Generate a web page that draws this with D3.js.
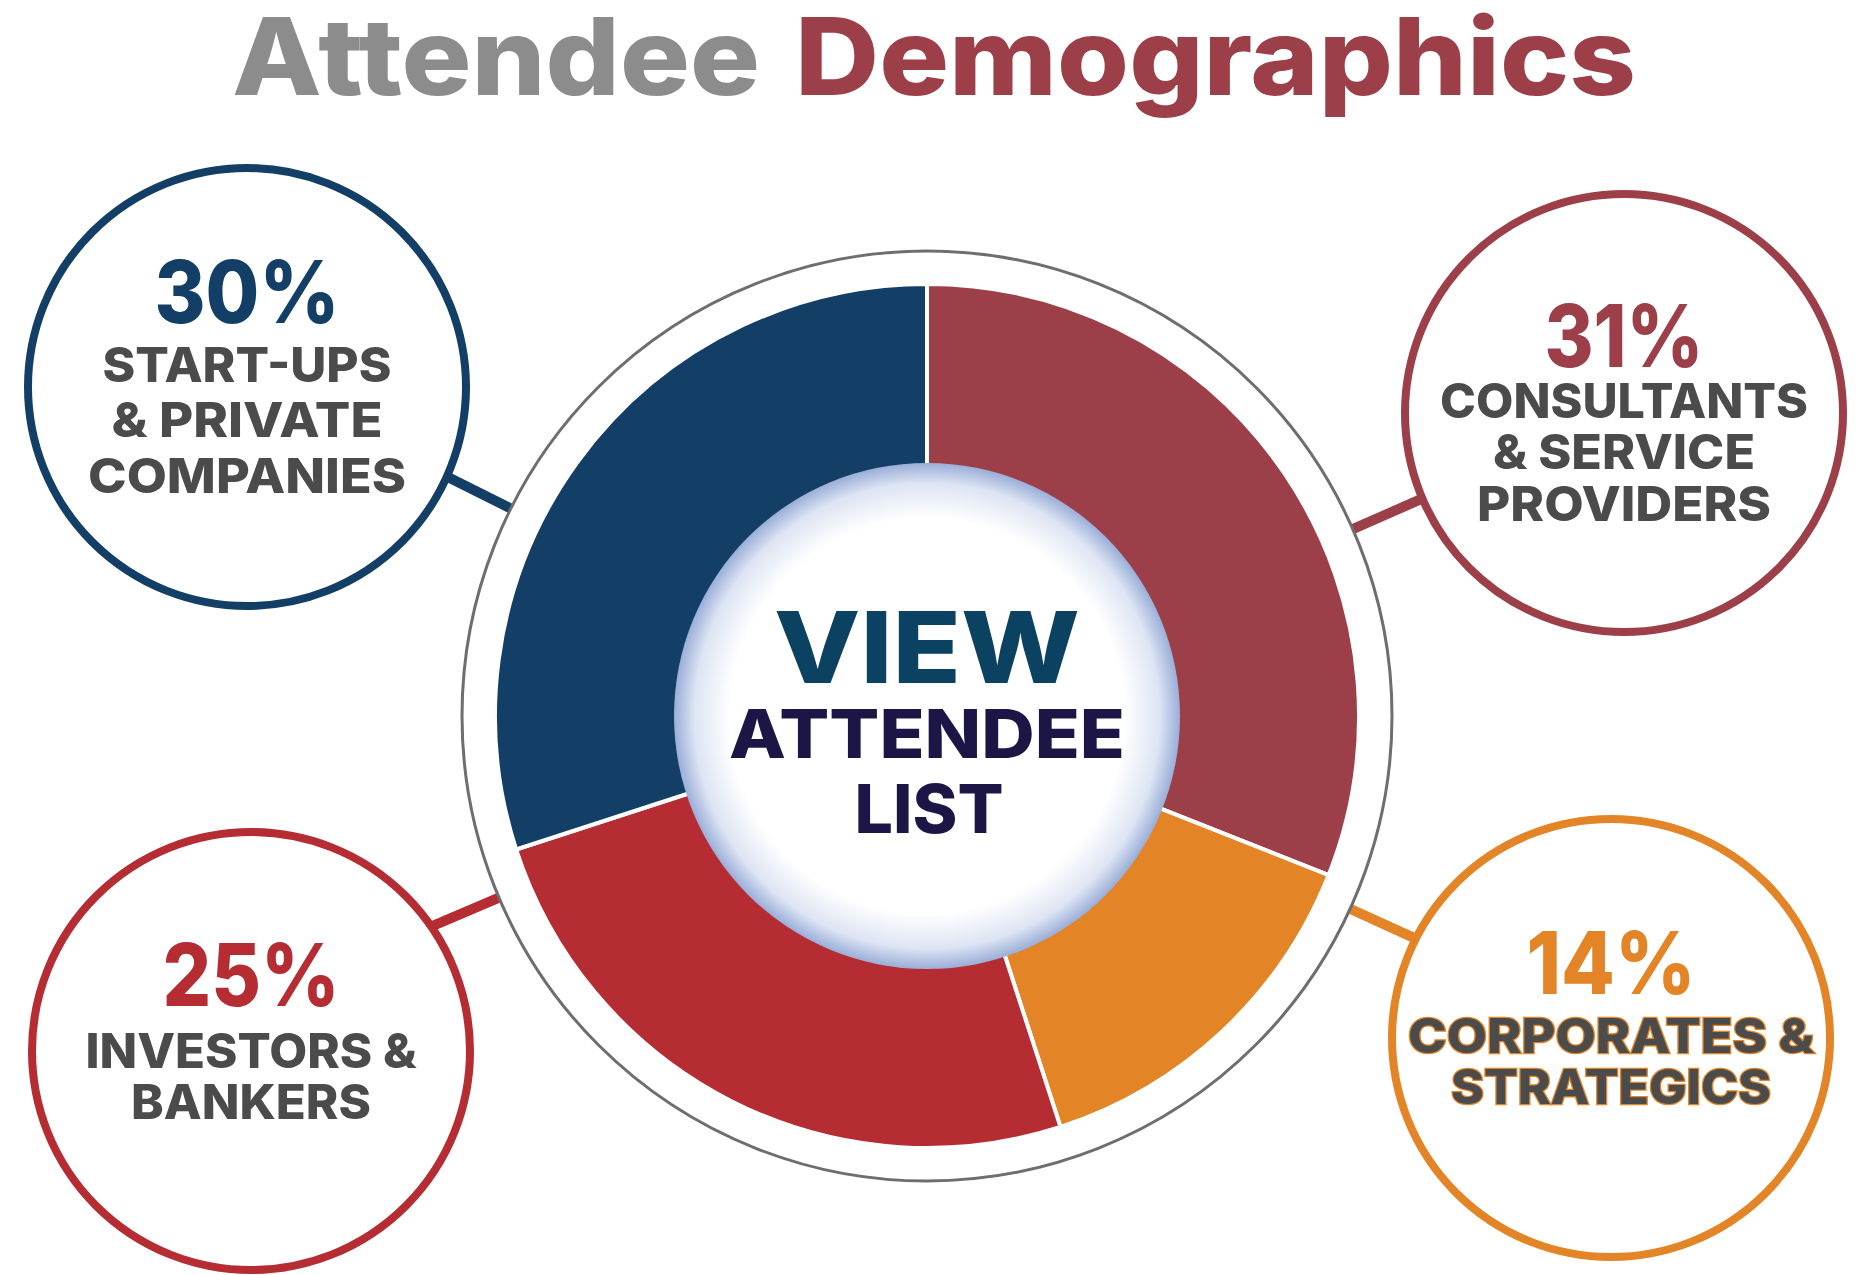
<!DOCTYPE html>
<html>
<head>
<meta charset="utf-8">
<script src="https://cdn.jsdelivr.net/npm/d3@7"></script>
<style>
  html, body { margin: 0; padding: 0; background: #fff; }
  svg { display: block; }
  text { font-family: Inter, "DejaVu Sans", sans-serif; font-weight: 800; }
</style>
</head>
<body>
<svg id="chart" width="1870" height="1275"></svg>
<script>
// data, clockwise from 12 o'clock
const categories = ["Consultants & Service Providers", "Corporates & Strategics", "Investors & Bankers", "Start-ups & Private Companies"];
const shares = [31, 14, 25, 30];
const labelLines = [
  ["CONSULTANTS", "& SERVICE", "PROVIDERS"],
  ["CORPORATES &", "STRATEGICS"],
  ["INVESTORS &", "BANKERS"],
  ["START-UPS", "& PRIVATE", "COMPANIES"]
];
const titleWords = ["Attendee", "Demographics"];
const centerLines = ["VIEW", "ATTENDEE", "LIST"];

// styles / layout
const sliceColors = ["#9c3f48", "#e38526", "#b52d33", "#133f66"];
const labelGray = "#4b4b4b";

const cx = 927, cy = 716;
const rOuter = 432, rInner = 253, rRing = 465;

// satellite bubbles: centre, connector angle (deg, screen), baselines and text widths
const bubbles = [
  {x: 1624, y: 413, ang: -23.7, pctY: 367, pctW: 159, lineY: [418, 469, 521], lineW: [368, 262, 294]},
  {x: 1611, y: 1038, ang: 24.5, pctY: 994, pctW: 169, lineY: [1053, 1104], lineW: [406, 320], outline: true},
  {x: 251, y: 1051, ang: 157, pctY: 1006, pctW: 177, lineY: [1068, 1119], lineW: [331, 240]},
  {x: 247, y: 387, ang: 206.5, pctY: 323, pctW: 185, lineY: [382, 437, 493], lineW: [289, 271, 318]}
];
const bubbleR = 219;

const svg = d3.select("#chart");

// title
const title = svg.append("text")
  .attr("y", 95)
  .attr("font-size", 107);
title.append("tspan")
  .attr("x", 232)
  .attr("fill", "#8c8c8c")
  .attr("textLength", 528)
  .attr("lengthAdjust", "spacingAndGlyphs")
  .text(titleWords[0]);
title.append("tspan")
  .attr("x", 795)
  .attr("fill", "#9c3f48")
  .attr("textLength", 841)
  .attr("lengthAdjust", "spacingAndGlyphs")
  .text(titleWords[1]);

// gradient for the centre disc
const defs = svg.append("defs");
const grad = defs.append("radialGradient").attr("id", "discGrad");
grad.append("stop").attr("offset", "0.78").attr("stop-color", "#ffffff");
grad.append("stop").attr("offset", "0.92").attr("stop-color", "#dde4f3");
grad.append("stop").attr("offset", "1").attr("stop-color", "#9aaed8");

// connectors (drawn first so bubbles and ring sit on top)
const conn = svg.append("g");
bubbles.forEach((b, i) => {
  const a = b.ang * Math.PI / 180;
  const ux = Math.cos(a), uy = Math.sin(a);
  // ray from donut centre hitting the bubble circle
  const dx = cx - b.x, dy = cy - b.y;
  const bq = dx * ux + dy * uy;
  const cq = dx * dx + dy * dy - bubbleR * bubbleR;
  const t = -bq - Math.sqrt(Math.max(0, bq * bq - cq));
  conn.append("line")
    .attr("x1", cx + ux * (rRing - 2)).attr("y1", cy + uy * (rRing - 2))
    .attr("x2", cx + ux * (t + 4)).attr("y2", cy + uy * (t + 4))
    .attr("stroke", sliceColors[i])
    .attr("stroke-width", 10);
});

// outer grey ring
svg.append("circle")
  .attr("cx", cx).attr("cy", cy).attr("r", rRing)
  .attr("fill", "#fff")
  .attr("stroke", "#6e6e6e")
  .attr("stroke-width", 3);

// donut
const pie = d3.pie().sort(null).value(d => d);
const arc = d3.arc().innerRadius(rInner - 20).outerRadius(rOuter);
svg.append("g")
  .attr("transform", `translate(${cx},${cy})`)
  .selectAll("path")
  .data(pie(shares))
  .join("path")
  .attr("d", arc)
  .attr("fill", (d, i) => sliceColors[i])
  .attr("stroke", "#fff")
  .attr("stroke-width", 4)
  .append("title").text((d, i) => categories[i] + ": " + d.data + "%");

// centre disc
svg.append("circle")
  .attr("cx", cx).attr("cy", cy).attr("r", rInner)
  .attr("fill", "url(#discGrad)");

const centerText = svg.append("g").attr("text-anchor", "middle");
[[683, 99, 306, "#0b4262"], [758, 67, 396, "#1c1647"], [833, 68, 149, "#1c1647"]].forEach((s, i) => {
  centerText.append("text")
    .attr("x", cx + (i === 2 ? 2 : 0)).attr("y", s[0])
    .attr("font-size", s[1])
    .attr("fill", s[3])
    .attr("textLength", s[2])
    .attr("lengthAdjust", "spacingAndGlyphs")
    .text(centerLines[i]);
});

// satellite bubbles
const bub = svg.append("g").selectAll("g")
  .data(bubbles)
  .join("g");

bub.append("circle")
  .attr("cx", d => d.x).attr("cy", d => d.y).attr("r", bubbleR)
  .attr("fill", "#fff")
  .attr("stroke", (d, i) => sliceColors[i])
  .attr("stroke-width", 8);

bub.append("text")
  .attr("text-anchor", "middle")
  .attr("x", d => d.x).attr("y", d => d.pctY)
  .attr("font-size", 86)
  .attr("fill", (d, i) => sliceColors[i])
  .attr("textLength", d => d.pctW)
  .attr("lengthAdjust", "spacingAndGlyphs")
  .text((d, i) => shares[i] + "%");

bub.each(function (d, i) {
  const g = d3.select(this);
  labelLines[i].forEach((line, j) => {
    const t = g.append("text")
      .attr("text-anchor", "middle")
      .attr("x", d.x).attr("y", d.lineY[j])
      .attr("font-size", 48)
      .attr("fill", labelGray)
      .attr("textLength", d.lineW[j])
      .attr("lengthAdjust", "spacingAndGlyphs")
      .text(line);
    if (d.outline) {
      t.attr("stroke", sliceColors[i])
        .attr("stroke-width", 2.5)
        .attr("paint-order", "stroke");
    }
  });
});
</script>
</body>
</html>
